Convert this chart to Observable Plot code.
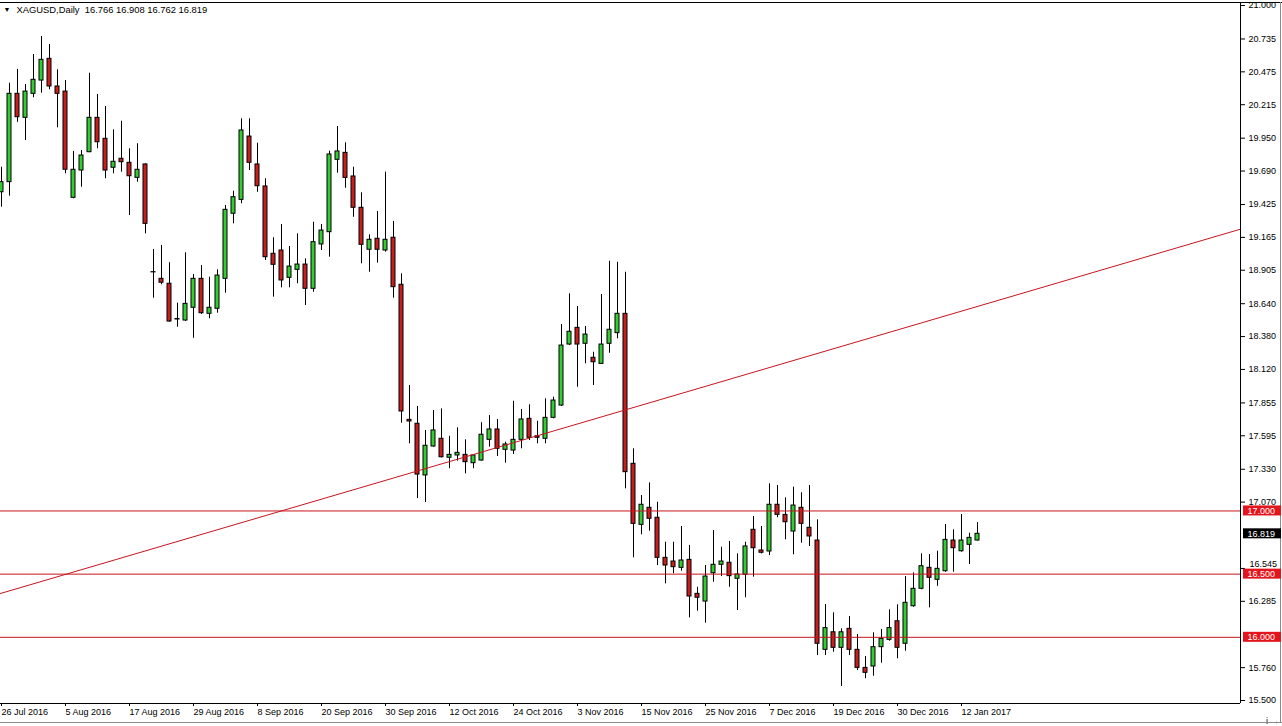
<!DOCTYPE html>
<html><head><meta charset="utf-8">
<script src="https://cdn.jsdelivr.net/npm/d3@7"></script>
<script src="https://cdn.jsdelivr.net/npm/@observablehq/plot@0.6"></script>
<style>
html,body{margin:0;padding:0;background:#fff;}
#chart svg text{white-space:pre;}
</style></head><body><div id="chart"></div>
<script>
const symbol = "XAGUSD";
const period = "Daily";

const opens = [19.522,19.602,20.301,20.111,20.301,20.406,20.578,20.359,20.319,19.478,
19.694,19.839,20.111,19.945,19.716,19.787,19.755,19.636,19.742,18.890,
18.837,18.798,18.519,18.507,18.608,18.837,18.560,18.600,18.837,19.352,
19.462,19.963,19.742,19.568,19.035,19.061,18.845,18.908,18.950,18.758,
19.109,19.206,19.779,19.834,19.647,19.399,19.067,19.154,19.061,19.162,
18.790,17.721,17.690,17.281,17.510,17.571,17.421,17.439,17.444,17.378,
17.399,17.563,17.645,17.484,17.478,17.563,17.729,17.591,17.571,17.737,
17.834,18.317,18.449,18.323,18.212,18.164,18.323,18.407,18.560,17.373,
16.890,17.025,16.946,16.629,16.600,16.550,16.613,16.344,16.283,16.507,
16.574,16.590,16.463,16.495,16.851,16.687,16.679,17.049,16.969,16.837,
17.025,16.867,16.766,15.901,16.040,15.917,16.067,15.901,15.758,15.769,
15.922,15.980,16.127,15.949,16.246,16.384,16.550,16.455,16.523,16.766,
16.681,16.732,16.766];

const highs = [19.720,20.385,20.494,20.375,20.612,20.755,20.691,20.491,20.406,19.845,
19.852,20.464,20.296,20.201,20.016,20.084,19.866,19.906,19.747,19.069,
19.101,18.964,18.644,19.043,18.871,18.942,18.850,18.908,19.417,19.530,
20.103,20.103,19.910,19.629,19.162,19.267,19.093,19.193,18.995,19.285,
19.267,19.847,20.042,19.913,19.720,19.518,19.185,19.370,19.681,19.291,
18.877,17.993,17.827,17.637,17.795,17.808,17.591,17.658,17.563,17.444,
17.698,17.755,17.724,17.544,17.868,17.803,17.840,17.710,17.887,17.900,
18.475,18.718,18.618,18.460,18.256,18.713,18.976,18.968,18.889,17.492,
17.122,17.222,17.069,16.753,16.753,16.877,16.727,16.396,16.568,16.845,
16.713,16.758,16.661,16.753,16.956,16.877,17.215,17.201,17.104,17.188,
17.144,17.201,16.930,16.260,16.194,16.067,16.165,16.022,15.848,16.036,
16.062,16.218,16.257,16.481,16.510,16.661,16.655,16.681,16.893,16.851,
16.972,16.824,16.908];

const lows = [19.404,19.491,20.076,19.932,20.270,20.306,20.333,20.032,19.668,19.470,
19.562,19.835,19.866,19.629,19.668,19.681,19.338,19.602,19.193,18.684,
18.790,18.494,18.454,18.500,18.367,18.555,18.521,18.565,18.723,19.272,
19.431,19.694,19.522,18.982,18.692,18.766,18.766,18.798,18.626,18.731,
19.061,19.008,19.673,19.554,19.324,18.956,18.889,18.961,19.048,18.684,
17.694,17.531,17.098,17.067,17.505,17.420,17.334,17.394,17.294,17.334,
17.395,17.505,17.431,17.378,17.447,17.492,17.557,17.531,17.531,17.729,
17.827,18.309,17.979,18.164,17.993,18.159,18.248,18.362,17.175,16.629,
16.811,16.840,16.568,16.423,16.503,16.523,16.154,16.207,16.112,16.436,
16.481,16.396,16.212,16.313,16.476,16.660,16.647,16.946,16.771,16.653,
16.745,16.719,15.856,15.856,15.882,15.611,15.856,15.737,15.672,15.692,
15.795,15.969,15.830,15.890,16.238,16.376,16.233,16.404,16.515,16.515,
16.674,16.576,16.762];

const closes = [19.602,20.301,20.116,20.319,20.412,20.570,20.359,20.301,19.700,19.700,
19.813,20.111,19.918,19.694,19.763,19.760,19.649,19.700,19.272,18.888,
18.806,18.499,18.515,18.639,18.837,18.565,18.608,18.863,19.383,19.483,
20.011,19.755,19.570,19.008,18.948,18.824,18.934,18.950,18.758,19.127,
19.219,19.821,19.845,19.636,19.399,19.106,19.146,19.067,19.146,18.771,
17.787,17.708,17.288,17.516,17.637,17.425,17.444,17.460,17.386,17.439,
17.603,17.645,17.492,17.526,17.563,17.724,17.579,17.579,17.737,17.874,
18.309,18.418,18.317,18.396,18.177,18.317,18.434,18.560,17.307,16.898,
17.049,16.938,16.629,16.568,16.555,16.608,16.323,16.313,16.481,16.574,
16.600,16.484,16.497,16.719,16.705,16.669,17.049,16.969,16.911,17.043,
16.898,16.798,15.949,16.073,15.917,16.040,15.901,15.758,15.719,15.922,
15.988,16.073,15.917,16.273,16.384,16.563,16.471,16.542,16.771,16.705,
16.766,16.787,16.819];

const xTickIdx = [0,8,16,24,32,40,48,56,64,72,80,88,96,104,112,120];
const xTickLabels = ["26 Jul 2016","5 Aug 2016","17 Aug 2016","29 Aug 2016","8 Sep 2016",
"20 Sep 2016","30 Sep 2016","12 Oct 2016","24 Oct 2016","3 Nov 2016","15 Nov 2016",
"25 Nov 2016","7 Dec 2016","19 Dec 2016","30 Dec 2016","12 Jan 2017"];

// price-axis labels that are visible (the ones under the price boxes are hidden)
const yTicks = [21.000,20.735,20.475,20.215,19.950,19.690,19.425,19.165,18.905,18.640,
18.380,18.120,17.855,17.595,17.330,17.070,16.545,16.285,15.760,15.500];
const yTickNudged = [16.545];   // label drawn slightly above its box

const levels = [17.000, 16.500, 16.000];
const trendIdx = [-0.125, 154.875];
const trendPrice = [16.347, 19.230];

// ---- layout helpers ----
const W = 1282, H = 726;
const PX = 695 / 5.5;             // pixels per price unit
const toIdx = px => (px - 1) / 8; // pixel column -> bar index
const yTop = 21 + 3 / PX, yBot = 15.5 - 3 / PX;

const candles = opens.map((o, i) => ({i, o, h: highs[i], l: lows[i], c: closes[i]}));
const last = candles[candles.length - 1];
const trend = trendIdx.map((i, k) => ({i, p: trendPrice[k]}));
const title = `${symbol},${period}  ${last.o.toFixed(3)} ${last.h.toFixed(3)} ${last.l.toFixed(3)} ${last.c.toFixed(3)}`;

const GREEN = "#33cc33", RED = "#c81e1e", LINE = "#c8141e", BOX = "#e3141b";
const font = "'Liberation Sans', Arial, sans-serif";

const chart = Plot.plot({
  width: W, height: H,
  marginLeft: 0, marginRight: 42, marginTop: 2, marginBottom: 23,
  x: {type: "linear", domain: [toIdx(0), toIdx(1240)], axis: null},
  y: {type: "linear", domain: [yBot, yTop], axis: null},
  style: {fontFamily: font, fontSize: "9px", background: "#fff", color: "#000", overflow: "visible"},
  marks: [
    // y axis (right)
    Plot.axisY({anchor: "right", ticks: yTicks, tickFormat: d => yTickNudged.includes(d) ? "" : d.toFixed(3), tickSize: 4, tickPadding: 4, fontSize: 9, fill: "#000", stroke: "#000"}),
    Plot.text(yTickNudged, {x: toIdx(1249), y: d => d, dy: -4, text: d => d.toFixed(3), textAnchor: "start", fontSize: 9, fill: "#000"}),
    // x axis (bottom)
    Plot.axisX({anchor: "bottom", ticks: xTickIdx, tickFormat: d => xTickLabels[xTickIdx.indexOf(d)], tickSize: 3, tickPadding: 2, textAnchor: "start", fontSize: 9, fill: "#000", stroke: "#000"}),
    // frame lines
    Plot.ruleY([yTop], {x1: toIdx(0), x2: toIdx(1282), stroke: "#000"}),
    Plot.ruleY([yBot], {x1: toIdx(0), x2: toIdx(1240), stroke: "#000"}),
    Plot.ruleX([toIdx(1240)], {y1: yBot, y2: yTop, stroke: "#000"}),
    Plot.ruleX([toIdx(1280)], {y1: yBot - 19 / PX, y2: yTop, stroke: "#8a8a8a"}),
    Plot.ruleY([yBot - 19 / PX], {x1: toIdx(0), x2: toIdx(1282), stroke: "#8a8a8a"}),
    // candles
    Plot.ruleX(candles, {x: "i", y1: "l", y2: "h", stroke: "#000"}),
    Plot.rect(candles, {x1: d => d.i - 0.25, x2: d => d.i + 0.25, y1: "o", y2: "c",
      fill: d => d.c >= d.o ? GREEN : RED, stroke: "#000", strokeWidth: 1}),
    // horizontal levels and trend line
    Plot.ruleY(levels, {stroke: LINE, strokeWidth: 1}),
    Plot.line(trend, {x: "i", y: "p", stroke: LINE, strokeWidth: 1, clip: true}),
    // level labels on the price axis
    Plot.rect(levels, {x1: toIdx(1243), x2: toIdx(1281), y1: d => d - 5 / PX, y2: d => d + 5 / PX, fill: BOX}),
    Plot.text(levels, {x: toIdx(1247), y: d => d, text: d => d.toFixed(3), textAnchor: "start", fill: "#fff", fontSize: 9}),
    Plot.rect([last.c], {x1: toIdx(1243), x2: toIdx(1281), y1: d => d - 5 / PX, y2: d => d + 5 / PX, fill: "#000"}),
    Plot.text([last.c], {x: toIdx(1247), y: d => d, text: d => d.toFixed(3), textAnchor: "start", fill: "#fff", fontSize: 9}),
    // title
    Plot.text(["\u25BC"], {frameAnchor: "top-left", dx: 3, dy: 5, textAnchor: "start", lineAnchor: "top", fontSize: 7, fill: "#000"}),
    Plot.text([title], {frameAnchor: "top-left", dx: 16, dy: 4, textAnchor: "start", lineAnchor: "top", fontSize: 9.4, fill: "#000"})
  ]
});
document.getElementById("chart").appendChild(chart);
</script>
</body></html>
